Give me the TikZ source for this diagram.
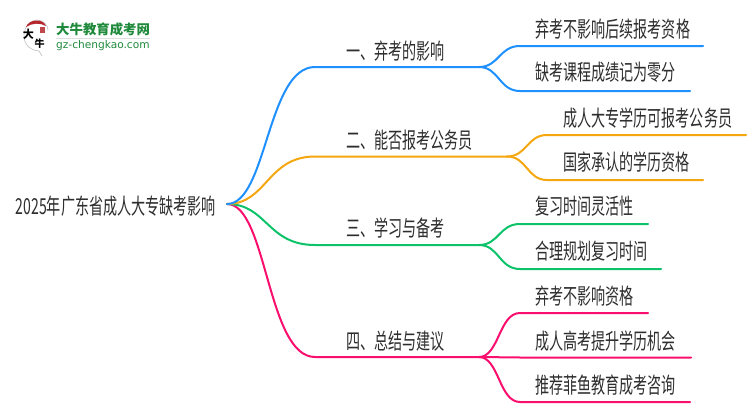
\documentclass[tikz,border=0pt]{standalone}
\usepackage{fontspec}
\setmainfont[FakeStretch=0.64]{Noto Sans CJK SC}
\newfontfamily\logocjk{Noto Sans CJK SC}
\newfontfamily\logolatin{DejaVu Sans}
\definecolor{cblue}{HTML}{1E90FF}
\definecolor{corange}{HTML}{F5A70F}
\definecolor{cgreen}{HTML}{0CC36A}
\definecolor{cpink}{HTML}{FA0F6E}
\definecolor{txt}{HTML}{2E2E2E}
\definecolor{logogreen}{HTML}{1F8A3C}
\definecolor{logored}{HTML}{B5272D}
\tikzset{
  x=1pt,y=-1pt,
  lbl/.style={anchor=base west,inner sep=0pt,font=\fontsize{22}{22}\selectfont,text=txt},
  wire/.style={line width=2pt,line cap=round},
  pt/.style={inner sep=0pt,minimum size=0pt,outer sep=0pt},
}
\begin{document}
\begin{tikzpicture}
\useasboundingbox (0,0) rectangle (750,410);
% logo
\fill[white] (0,0) rectangle (750,410);
\draw[gray!45,line width=0.7pt] (42,56) -- (39,51) .. controls (28,50) and (23.5,42) .. (24,35) .. controls (24.5,26) and (31,20) .. (37,20) .. controls (44,20) and (48,26) .. (48,30);
\fill[logored] (26,27) .. controls (29,19) and (43,18) .. (46,26) .. controls (40,22.5) and (32,23) .. (26,27) -- cycle;
\fill[logored!85] (40,27) rectangle (45,33);
\node[pt,font=\fontsize{11}{11}\logocjk\bfseries,text=black] (logoa) at (28.5,34.5) {大};
\node[pt,font=\fontsize{10}{10}\logocjk\bfseries,text=black] (logob) at (39.5,43.5) {牛};
\node[lbl,font=\fontsize{13.4}{14}\logocjk\bfseries,text=logogreen] (logot) at (56,34.5) {大牛教育成考网};
\node[lbl,font=\fontsize{10.6}{11}\logolatin,text=logogreen] (logou) at (56,48) {gz-chengkao.com};
\draw[gray!25,line width=0.6pt] (56,38.5) -- (150,38.5);
% anchors
\coordinate (root) at (227,204);
\coordinate (a1) at (315,67);   \coordinate (a2) at (479,67);
\coordinate (b1) at (315,156.5);\coordinate (b2) at (507,156.5);
\coordinate (c1) at (315,245);  \coordinate (c2) at (479,245);
\coordinate (d1) at (315,357);  \coordinate (d2) at (479,357);
\coordinate (a1s) at (520,46);  \coordinate (a1e) at (703,46);
\coordinate (a2s) at (520,91);  \coordinate (a2e) at (690,91);
\coordinate (b1s) at (547,135); \coordinate (b1e) at (746,135);
\coordinate (b2s) at (547,180); \coordinate (b2e) at (703,180);
\coordinate (c1s) at (520,224); \coordinate (c1e) at (648,224);
\coordinate (c2s) at (520,269); \coordinate (c2e) at (661,269);
\coordinate (d1s) at (520,313); \coordinate (d1e) at (648,313);
\coordinate (d2s) at (520,357.5); \coordinate (d2e) at (691,357.5);
\coordinate (d3s) at (520,402); \coordinate (d3e) at (690,402);
% connectors
\draw[wire,cpink] (root) .. controls (267,204) and (267,357) .. (d1) -- (d2);
\draw[wire,cgreen] (root) .. controls (267,204) and (267,245) .. (c1) -- (c2);
\draw[wire,corange] (root) .. controls (267,204) and (267,156.5) .. (b1) -- (b2);
\draw[wire,cblue] (root) .. controls (267,204) and (267,67) .. (a1) -- (a2);
\draw[wire,cblue] (a2) .. controls (499,67) and (499,46) .. (a1s) -- (a1e);
\draw[wire,cblue] (a2) .. controls (499,67) and (499,91) .. (a2s) -- (a2e);
\draw[wire,corange] (b2) .. controls (527,156.5) and (527,135) .. (b1s) -- (b1e);
\draw[wire,corange] (b2) .. controls (527,156.5) and (527,180) .. (b2s) -- (b2e);
\draw[wire,cgreen] (c2) .. controls (499,245) and (499,224) .. (c1s) -- (c1e);
\draw[wire,cgreen] (c2) .. controls (499,245) and (499,269) .. (c2s) -- (c2e);
\draw[wire,cpink] (d2) .. controls (499,357) and (499,313) .. (d1s) -- (d1e);
\draw[wire,cpink] (d2) -- (d2s) -- (d2e);
\draw[wire,cpink] (d2) .. controls (499,357) and (499,402) .. (d3s) -- (d3e);
% labels
\node[lbl] (tr) at (15.5,214) {2025年广东省成人大专缺考影响};
\node[lbl] (t1) at (346,59) {一、弃考的影响};
\node[lbl] (t2) at (346,148) {二、能否报考公务员};
\node[lbl] (t3) at (346,236.5) {三、学习与备考};
\node[lbl] (t4) at (346,349) {四、总结与建议};
\node[lbl] (t11) at (535,37) {弃考不影响后续报考资格};
\node[lbl] (t12) at (535,80.5) {缺考课程成绩记为零分};
\node[lbl] (t21) at (563,126) {成人大专学历可报考公务员};
\node[lbl] (t22) at (563,170.5) {国家承认的学历资格};
\node[lbl] (t31) at (535,214.5) {复习时间灵活性};
\node[lbl] (t32) at (535,259.5) {合理规划复习时间};
\node[lbl] (t41) at (535,304.5) {弃考不影响资格};
\node[lbl] (t42) at (535,349) {成人高考提升学历机会};
\node[lbl] (t43) at (535,393) {推荐菲鱼教育成考咨询};
\end{tikzpicture}
\end{document}
